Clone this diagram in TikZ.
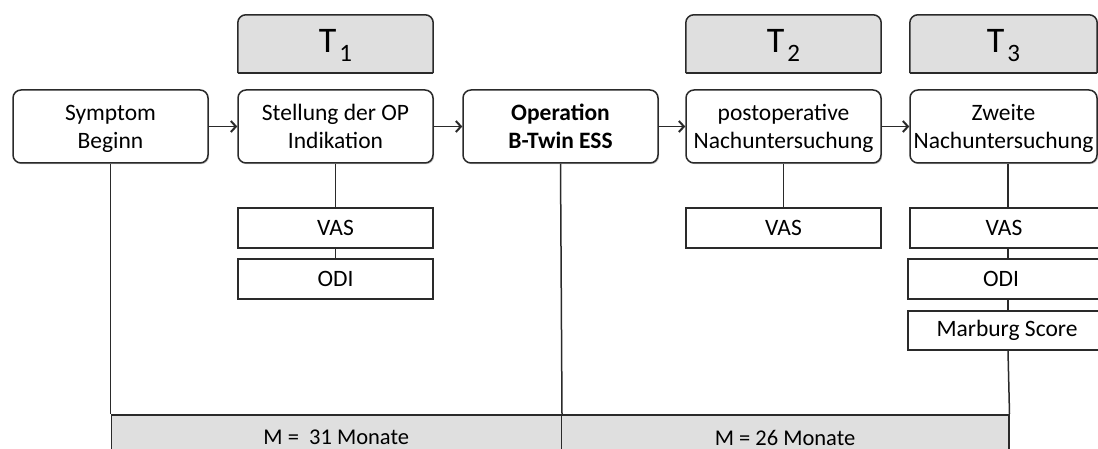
\documentclass[tikz,border=0pt]{standalone}
\usepackage{fontspec}
\setmainfont{Carlito}
\usetikzlibrary{arrows.meta,backgrounds,shadows}
\definecolor{tgray}{HTML}{DFDFDF}
\definecolor{edge}{HTML}{2A2A2A}
\begin{document}
\begin{tikzpicture}[x=1pt,y=-1pt,
  every node/.style={font=\fontsize{23.5}{28}\selectfont, inner sep=0pt},
  softshadow/.style={drop shadow={shadow xshift=1.2pt, shadow yshift=-1.2pt, opacity=0.2, fill=black}},
  stagebox/.style={draw=edge, line width=1.5pt, rounded corners=8pt, fill=white,
    minimum width=195pt, minimum height=73pt, align=center, text depth=0pt, softshadow},
  tlabel/.style={minimum width=195pt, minimum height=58pt, text height=22pt, text depth=4pt,
    font=\fontsize{36}{40}\selectfont},
  measbox/.style={draw=edge, line width=1.5pt, fill=white, minimum width=195pt,
    minimum height=40pt, softshadow},
  barbox/.style={draw=edge, line width=1.5pt, fill=tgray, anchor=north west, minimum height=46pt,
    font=\fontsize{22.5}{26}\selectfont},
  conn/.style={draw=edge, line width=1.5pt},
  arr/.style={conn, -{Straight Barb[length=5pt,width=11pt,line width=2pt]}}
]
\useasboundingbox (0,0) rectangle (1098,449);
\clip (0,0) rectangle (1098,449);

% time point labels
\node[tlabel] (t1) at (335.5,44) {T\hspace{3pt}\raisebox{-9pt}{\fontsize{25}{25}\selectfont 1}};
\node[tlabel] (t2) at (783.5,44) {T\hspace{3pt}\raisebox{-9pt}{\fontsize{25}{25}\selectfont 2}};
\node[tlabel, minimum width=187pt] (t3) at (1003.5,44) {T\hspace{3pt}\raisebox{-9pt}{\fontsize{25}{25}\selectfont 3}};
\begin{scope}[on background layer]
  \foreach \t in {t1,t2,t3}{
    \fill[tgray, rounded corners=8pt] (\t.north west) rectangle (\t.south east);
    \fill[tgray] (\t.west) rectangle (\t.south east);
    \draw[edge, line width=1.5pt, rounded corners=8pt] (\t.south west) |- (\t.north) -| (\t.south east);
    \draw[edge, line width=1.5pt] (\t.south west) -- (\t.south east);
  }
\end{scope}

% stages
\node[stagebox] (s0) at (110.5,126.5) {Symptom\\Beginn};
\node[stagebox] (s1) at (335.5,126.5) {Stellung der OP\\Indikation};
\node[stagebox] (s2) at (560.5,126.5) {\bfseries Operation\\\bfseries B-Twin ESS};
\node[stagebox] (s3) at (783.5,126.5) {postoperative\\Nachuntersuchung};
\node[stagebox, minimum width=187pt] (s4) at (1003.5,126.5) {Zweite\\Nachuntersuchung};

\draw[arr] (s0.east) -- (s1.west);
\draw[arr] (s1.east) -- (s2.west);
\draw[arr] (s2.east) -- (s3.west);
\draw[arr] (s3.east) -- (s4.west);

% measurements
\node[measbox] (v1) at (335.5,228) {VAS};
\node[measbox] (o1) at (335.5,279) {ODI};
\node[measbox] (v2) at (783.5,228) {VAS};
\node[measbox, minimum width=200pt] (v3) at (1010,228) {\hspace{-12pt}VAS};
\node[measbox, minimum width=202pt] (o3) at (1009,279) {\hspace{-16pt}ODI};
\node[measbox, minimum width=202pt, minimum height=39pt] (m3) at (1009,330.5) {\hspace{-4pt}\raisebox{-5pt}{Marburg Score}};

% bottom bars
\node[barbox, minimum width=450pt] (bar1) at (110.5,414) {M =\ \ 31 Monate};
\node[barbox, minimum width=447.5pt] (bar2) at (560.5,414) {M = 26 Monate};

\coordinate (c3) at (1008,0);
\draw[conn] (s1.south) -- (v1.north);
\draw[conn] (v1.south) -- (o1.north);
\draw[conn] (s3.south) -- (v2.north);
\draw[conn] (s4.south -| c3) -- (v3.north -| c3);
\draw[conn] (v3.south -| c3) -- (o3.north -| c3);
\draw[conn] (o3.south -| c3) -- (m3.north -| c3);
\draw[conn] (m3.south -| c3) -- (bar2.north east);
\draw[conn] (s0.south) -- (bar1.north west);
\draw[conn] (s2.south) -- (bar1.north east);
\end{tikzpicture}
\end{document}
